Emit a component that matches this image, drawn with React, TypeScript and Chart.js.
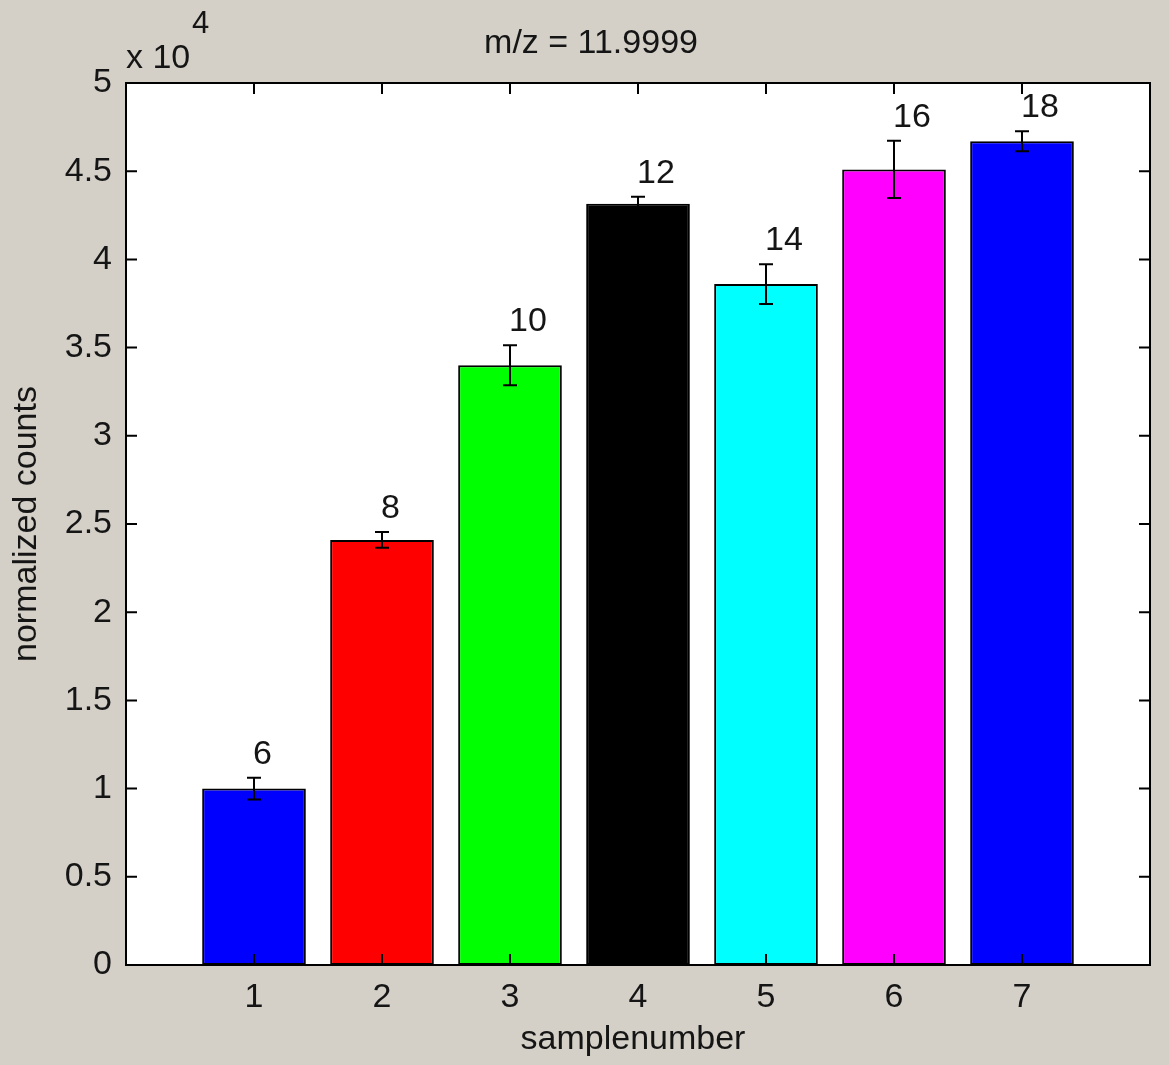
import React, { useEffect, useRef } from "react";
import { Chart, registerables } from "chart.js";

Chart.register(...registerables);

const samples = [1, 2, 3, 4, 5, 6, 7];
const counts = [10000, 24100, 34000, 43150, 38600, 45100, 46700];
const errors = [620, 450, 1130, 400, 1130, 1620, 570];
const barLabels = ["6", "8", "10", "12", "14", "16", "18"];
const barColors = ["#0000ff", "#ff0000", "#00ff00", "#000000", "#00ffff", "#ff00ff", "#0000ff"];
const xTickValues = [1, 2, 3, 4, 5, 6, 7];
const yTickValues = [0, 5000, 10000, 15000, 20000, 25000, 30000, 35000, 40000, 45000, 50000];
const titleText = "m/z = 11.9999";
const xTitle = "samplenumber";
const yTitle = "normalized counts";

const FONT = "'Liberation Sans', Arial, sans-serif";
const BG = "#d4d0c8";
const TEXT = "#151515";

const matlabPlugin = {
  id: "matlabStyle",
  beforeDraw(chart: any) {
    const { ctx, chartArea: a } = chart;
    ctx.save();
    ctx.fillStyle = BG;
    ctx.fillRect(0, 0, chart.width, chart.height);
    ctx.fillStyle = "#ffffff";
    ctx.fillRect(a.left, a.top, a.right - a.left, a.bottom - a.top);
    ctx.restore();
  },
  afterDatasetsDraw(chart: any) {
    const { ctx } = chart;
    const xs = chart.scales.x;
    const ys = chart.scales.y;
    ctx.save();
    ctx.strokeStyle = "#000000";
    ctx.lineWidth = 2;
    samples.forEach((s, i) => {
      const px = xs.getPixelForValue(s);
      const top = ys.getPixelForValue(counts[i] + errors[i]);
      const bot = ys.getPixelForValue(counts[i] - errors[i]);
      ctx.beginPath();
      ctx.moveTo(px, top);
      ctx.lineTo(px, bot);
      ctx.moveTo(px - 7, top);
      ctx.lineTo(px + 7, top);
      ctx.moveTo(px - 7, bot);
      ctx.lineTo(px + 7, bot);
      ctx.stroke();
      ctx.fillStyle = TEXT;
      ctx.font = `34px ${FONT}`;
      ctx.textAlign = "left";
      ctx.textBaseline = "alphabetic";
      ctx.fillText(barLabels[i], px - 1, top - 14);
    });
    ctx.restore();
  },
  afterDraw(chart: any) {
    const { ctx, chartArea: a } = chart;
    const xs = chart.scales.x;
    const ys = chart.scales.y;
    ctx.save();
    ctx.strokeStyle = "#000000";
    ctx.lineWidth = 2;
    ctx.strokeRect(a.left, a.top, a.right - a.left, a.bottom - a.top);
    ctx.beginPath();
    xTickValues.forEach((v) => {
      const px = xs.getPixelForValue(v);
      ctx.moveTo(px, a.bottom);
      ctx.lineTo(px, a.bottom - 11);
      ctx.moveTo(px, a.top);
      ctx.lineTo(px, a.top + 11);
    });
    yTickValues.forEach((v) => {
      const py = ys.getPixelForValue(v);
      ctx.moveTo(a.left, py);
      ctx.lineTo(a.left + 11, py);
      ctx.moveTo(a.right, py);
      ctx.lineTo(a.right - 11, py);
    });
    ctx.stroke();

    ctx.fillStyle = TEXT;
    ctx.font = `34px ${FONT}`;
    ctx.textAlign = "center";
    ctx.textBaseline = "middle";
    const cx = (a.left + a.right) / 2;
    ctx.fillText(titleText, cx - 47, a.top - 39);
    ctx.fillText(xTitle, cx - 5, chart.height - 25);
    ctx.save();
    ctx.translate(27, (a.top + a.bottom) / 2);
    ctx.rotate(-Math.PI / 2);
    ctx.fillText(yTitle, 0, 0);
    ctx.restore();

    ctx.textAlign = "left";
    ctx.textBaseline = "alphabetic";
    ctx.fillText("x 10", a.left, a.top - 15);
    ctx.font = `31px ${FONT}`;
    ctx.fillText("4", a.left + 66, a.top - 50);
    ctx.restore();
  },
};

export default function App() {
  const ref = useRef<HTMLCanvasElement>(null);
  useEffect(() => {
    document.body.style.margin = "0";
    const chart = new Chart(ref.current as HTMLCanvasElement, {
      type: "bar",
      data: {
        datasets: [
          {
            data: samples.map((s, i) => ({ x: s, y: counts[i] })),
            backgroundColor: barColors,
            borderColor: "#000000",
            borderWidth: 2,
            borderSkipped: false,
            barPercentage: 0.81,
            categoryPercentage: 1,
          },
        ],
      },
      options: {
        animation: false,
        responsive: true,
        maintainAspectRatio: false,
        layout: { padding: { top: 83, right: 19, left: 0, bottom: 0 } },
        plugins: {
          legend: { display: false },
          tooltip: { enabled: false },
          title: { display: false },
        },
        scales: {
          x: {
            type: "linear",
            min: 0,
            max: 8,
            offset: false,
            grid: { display: false, drawTicks: false, offset: false },
            border: { display: false },
            afterBuildTicks: (scale: any) => {
              scale.ticks = xTickValues.map((v) => ({ value: v }));
            },
            afterFit: (scale: any) => {
              scale.height = 100;
            },
            ticks: {
              font: { family: FONT, size: 34 },
              color: TEXT,
              padding: 12,
              callback: (v: any) => String(v),
            },
          },
          y: {
            type: "linear",
            min: 0,
            max: 50000,
            grid: { display: false, drawTicks: false },
            border: { display: false },
            afterBuildTicks: (scale: any) => {
              scale.ticks = yTickValues.map((v) => ({ value: v }));
            },
            afterFit: (scale: any) => {
              scale.width = 126;
            },
            ticks: {
              font: { family: FONT, size: 34 },
              color: TEXT,
              padding: 14,
              callback: (v: any) => String(Number(v) / 10000),
            },
          },
        },
      },
      plugins: [matlabPlugin],
    });
    return () => chart.destroy();
  }, []);
  return (
    <div style={{ width: 1169, height: 1065, position: "relative" }}>
      <canvas ref={ref} />
    </div>
  );
}
